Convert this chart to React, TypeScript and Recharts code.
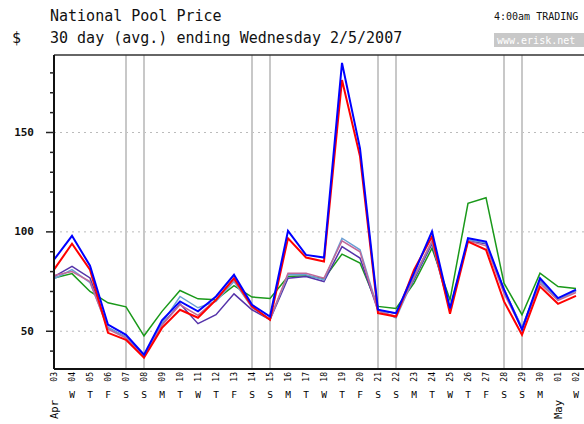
import React from "react";
import { LineChart, Line, XAxis, YAxis, ReferenceLine } from "recharts";

const days = ["03","04","05","06","07","08","09","10","11","12","13","14","15","16","17","18","19","20","21","22","23","24","25","26","27","28","29","30","01","02"];
const weekdays = ["","W","T","F","S","S","M","T","W","T","F","S","S","M","T","W","T","F","S","S","M","T","W","T","F","S","S","M","","W"];
const months = ["Apr","","","","","","","","","","","","","","","","","","","","","","","","","","","","May",""];
const weekendIdx = [4, 5, 11, 12, 18, 19, 25, 26];
const yTicks = [40, 50, 60, 70, 80, 90, 100, 110, 120, 130, 140, 150, 160, 170, 180];
const yLabels = [50, 100, 150];

const blueS = [86, 98, 83, 53.3, 48.2, 38.2, 55.5, 65, 60, 67.5, 78.4, 63.3, 57.4, 100.5, 88.4, 87.1, 185, 142, 60.8, 59.1, 79.2, 100.2, 61.5, 96.8, 95.1, 71, 50.8, 76.7, 66.7, 70.9];
const redS = [81, 94, 81, 49.2, 45.7, 36.7, 51.7, 60.8, 56.8, 65.8, 76.7, 62.5, 55.8, 96.8, 87.1, 85.1, 176.4, 138, 59.1, 57.4, 80.9, 97.7, 58.8, 95.1, 91, 65, 48.2, 72.5, 63.8, 67.8];
const greenS = [76.8, 79, 70, 64.3, 62.3, 47.7, 60, 70.5, 66.3, 65.8, 72.9, 67.2, 66.5, 77.5, 77.9, 76.4, 88.8, 84.3, 62.5, 61.5, 74.2, 91.8, 65.8, 114.4, 117.2, 74.2, 58.3, 79.2, 72.5, 71.5];
const purpleS = [77.5, 82.6, 76.8, 51.8, 47, 37.5, 53.3, 63.8, 53.8, 58.3, 68.8, 60.8, 55.8, 76.7, 77.5, 75, 92.6, 86.8, 60.5, 59, 76, 94, 61, 95.5, 94, 71, 51.5, 75.5, 66, 70.5];
const lightBlueS = [76.4, 81, 74.4, 51.8, 47, 37.5, 54, 67.5, 61.8, 65, 75, 62, 56, 78.4, 78.4, 75.9, 96.8, 91, 61, 56.7, 77, 95, 61.5, 96, 94.5, 71, 52, 75, 66, 70.5];
const pinkS = [78, 80, 75, 51, 46.5, 37, 53, 63.3, 58, 66, 75.9, 62, 56, 79.2, 79.2, 76.7, 95.5, 90, 60, 57.5, 77.5, 95.5, 60.5, 95.5, 93, 69, 51, 74, 65.5, 69.5];

const data = days.map((d, i) => ({
  i,
  blue: blueS[i],
  red: redS[i],
  green: greenS[i],
  purple: purpleS[i],
  lightBlue: lightBlueS[i],
  pink: pinkS[i],
}));

const FONT = "'DejaVu Sans Mono', 'Liberation Mono', monospace";

const XTick = (props: any) => {
  const { x, y, payload } = props;
  const i = payload.value as number;
  return (
    <g fontFamily={FONT} fill="#000">
      <text transform={`translate(${x},${y + 3}) rotate(-90)`} textAnchor="end" dominantBaseline="central" fontSize={8}>
        {days[i]}
      </text>
      {weekdays[i] ? (
        <text x={x} y={y + 29} textAnchor="middle" fontSize={9.5}>
          {weekdays[i]}
        </text>
      ) : null}
      {months[i] ? (
        <text transform={`translate(${x},${y + 31}) rotate(-90)`} textAnchor="end" dominantBaseline="central" fontSize={10.5}>
          {months[i]}
        </text>
      ) : null}
    </g>
  );
};

const YTick = (props: any) => {
  const { x, y, payload } = props;
  const v = payload.value as number;
  const major = yLabels.includes(v);
  return (
    <g>
      <line x1={x - (major ? 8 : 4)} x2={x} y1={y} y2={y} stroke="#222" strokeWidth={1.5} />
      {major ? (
        <text x={x - 20} y={y} textAnchor="end" dominantBaseline="central" fontFamily={FONT} fontSize={11} fontWeight="bold" fill="#111">
          {v}
        </text>
      ) : null}
    </g>
  );
};

export default function App() {
  return (
    <div style={{ position: "absolute", left: 0, top: 0, width: 584, height: 424, overflow: "hidden", background: "#fff" }}>
      <svg width={584} height={60} style={{ position: "absolute", left: 0, top: 0 }}>
        <g fontFamily={FONT} fill="#111">
          <text x={50} y={21} fontSize={15}>National Pool Price</text>
          <text x={50} y={43} fontSize={15}>30 day (avg.) ending Wednesday 2/5/2007</text>
          <text x={12} y={43} fontSize={15}>$</text>
          <text x={494} y={20} fontSize={10}>4:00am TRADING</text>
        </g>
        <rect x={494} y={33} width={90} height={14} fill="#c8c8c8" />
        <text x={497} y={44} fontFamily={FONT} fontSize={10} fill="#fff">www.erisk.net</text>
      </svg>
      <div style={{ position: "absolute", left: 0, top: 0 }}>
        <LineChart width={594} height={424} data={data} margin={{ top: 55, right: 0, bottom: 0, left: 0 }}>
          <XAxis
            dataKey="i"
            type="number"
            domain={[0, 30]}
            ticks={data.map((d) => d.i)}
            interval={0}
            height={55}
            tickSize={0}
            tickMargin={0}
            tickLine={false}
            axisLine={{ stroke: "#111", strokeWidth: 2 }}
            tick={<XTick />}
          />
          <YAxis
            type="number"
            domain={[31, 189]}
            ticks={yTicks}
            interval={0}
            width={54}
            tickSize={0}
            tickMargin={0}
            tickLine={false}
            axisLine={{ stroke: "#111", strokeWidth: 2 }}
            tick={<YTick />}
            allowDataOverflow
          />
          {yLabels.map((v) => (
            <ReferenceLine key={"h" + v} y={v} stroke="#bbbbbb" strokeDasharray="2 4" strokeWidth={1} />
          ))}
          {weekendIdx.map((i) => (
            <ReferenceLine key={"w" + i} x={i} stroke="#c8c8c8" strokeWidth={2} />
          ))}
          <ReferenceLine y={189} stroke="#333" strokeWidth={1.5} />
          <Line dataKey="green" stroke="#1a991a" strokeWidth={1.5} dot={false} isAnimationActive={false} />
          <Line dataKey="purple" stroke="#5533aa" strokeWidth={1.5} dot={false} isAnimationActive={false} />
          <Line dataKey="lightBlue" stroke="#6a9fd4" strokeWidth={1.5} dot={false} isAnimationActive={false} />
          <Line dataKey="pink" stroke="#c0689a" strokeWidth={1.5} dot={false} isAnimationActive={false} />
          <Line dataKey="red" stroke="#ff0000" strokeWidth={2} dot={false} isAnimationActive={false} />
          <Line dataKey="blue" stroke="#0000ff" strokeWidth={2} dot={false} isAnimationActive={false} />
        </LineChart>
      </div>
    </div>
  );
}
